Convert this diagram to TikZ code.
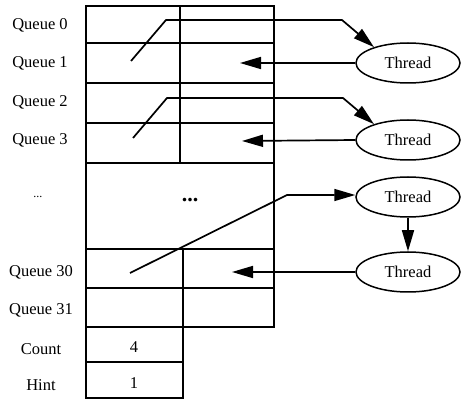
\documentclass[tikz,border=0pt]{standalone}
\usepackage{fontspec}
\setmainfont{Liberation Serif}
\usetikzlibrary{arrows.meta,shapes.geometric}
\begin{document}
\begin{tikzpicture}[x=1pt,y=-1pt,line width=1.5pt,
  cell/.style={draw,rectangle,inner sep=0pt,line width=1.5pt},
  thr/.style={draw,ellipse,minimum width=104pt,minimum height=40pt,inner sep=0pt,line width=1.5pt,font=\fontsize{16.5}{19}\selectfont},
  lab/.style={font=\fontsize{16.5}{19}\selectfont},
  ptr/.style={line width=1.7pt,-{Triangle[length=21pt,width=12pt]}},
  lnk/.style={line width=1.7pt}]
\useasboundingbox (0,0) rectangle (464,401);
% cells
\node[cell,minimum width=94pt,minimum height=37pt] (q0l) at (133,24.5) {};
\node[cell,minimum width=94pt,minimum height=37pt] (q0r) at (227,24.5) {};
\node[cell,minimum width=94pt,minimum height=40pt] (q1l) at (133,63) {};
\node[cell,minimum width=94pt,minimum height=40pt] (q1r) at (227,63) {};
\node[cell,minimum width=94pt,minimum height=40pt] (q2l) at (133,103) {};
\node[cell,minimum width=94pt,minimum height=40pt] (q2r) at (227,103) {};
\node[cell,minimum width=94pt,minimum height=40pt] (q3l) at (133,143) {};
\node[cell,minimum width=94pt,minimum height=40pt] (q3r) at (227,143) {};
\node[cell,minimum width=188pt,minimum height=86pt] (mid) at (180,206) {};
\node[cell,minimum width=97pt,minimum height=39pt] (q30l) at (134.5,268.5) {};
\node[cell,minimum width=91pt,minimum height=39pt] (q30r) at (228.5,268.5) {};
\node[cell,minimum width=97pt,minimum height=39pt] (q31l) at (134.5,307.5) {};
\node[cell,minimum width=91pt,minimum height=39pt] (q31r) at (228.5,307.5) {};
\node[cell,minimum width=97pt,minimum height=35pt] (cnt) at (134.5,344.5) {};
\node[cell,minimum width=97pt,minimum height=36pt] (hnt) at (134.5,380) {};
% contents
\node[font=\bfseries\fontsize{22}{24}\selectfont] (dots) at (190,200) {...};
\node[lab] (cntv) at (134,347) {4};
\node[lab] (hntv) at (134,383) {1};
% labels
\node[lab] (l0) at (40,25) {Queue 0};
\node[lab] (l1) at (40,63) {Queue 1};
\node[lab] (l2) at (40,102) {Queue 2};
\node[lab] (l3) at (40,140) {Queue 3};
\node[font=\fontsize{12}{14}\selectfont] (ld) at (38,197) {...};
\node[lab] (l30) at (41,272) {Queue 30};
\node[lab] (l31) at (41,310) {Queue 31};
\node[lab] (lc) at (41,349) {Count};
\node[lab] (lh) at (41,385) {Hint};
% threads
\node[thr] (t1) at (408,63) {Thread};
\node[thr] (t2) at (408,140) {Thread};
\node[thr] (t3) at (408,197) {Thread};
\node[thr] (t4) at (408,272) {Thread};
% pointer coordinates
\coordinate (s1) at (131,61);
\coordinate (b1) at (166,20);
\coordinate (c1) at (342,20);
\coordinate (e1) at (240,63);
\coordinate (s2) at (133,138);
\coordinate (b2) at (167,98);
\coordinate (c2) at (343,98);
\coordinate (e2) at (242,141);
\coordinate (s3) at (130,273);
\coordinate (b3) at (287,195);
\coordinate (e4) at (232,272);
% connectors
\draw[ptr] (s1) -- (b1) -- (c1) -- (t1.155);
\draw[ptr] (t1.west) -- (e1);
\draw[ptr] (s2) -- (b2) -- (c2) -- (t2.155);
\draw[ptr] (t2.west) -- (e2);
\draw[ptr] (s3) -- (b3) -- (t3.west |- b3);
\draw[ptr] (t3.south) -- (t4.north);
\draw[ptr] (t4.west) -- (e4);
\end{tikzpicture}
\end{document}
